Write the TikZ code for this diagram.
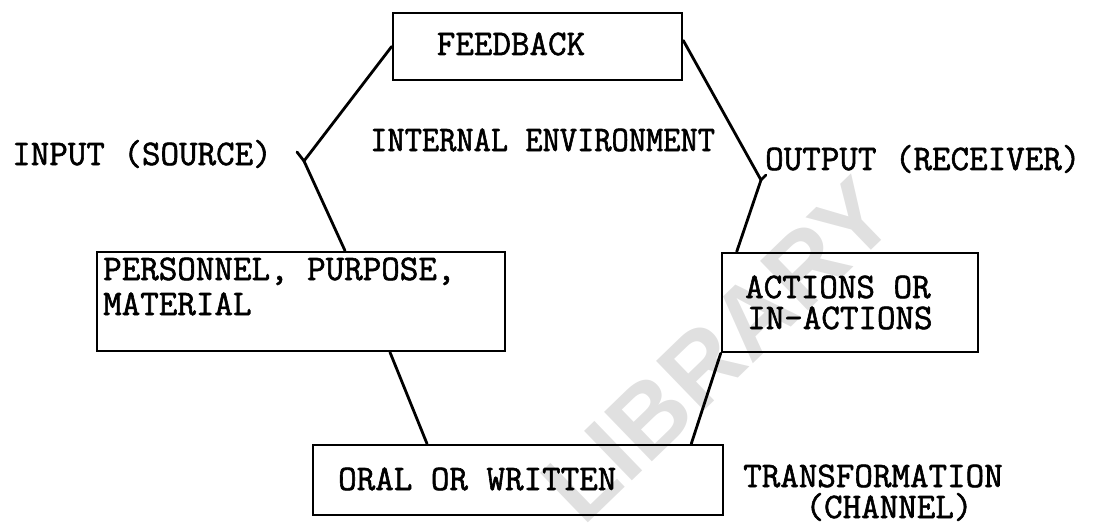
\documentclass[tikz,border=0pt]{standalone}
\usepackage{fontspec}
\newfontfamily\tw[FakeBold=1.6]{Latin Modern Mono}
\newfontfamily\twn[FakeStretch=0.93,FakeBold=1.6]{Latin Modern Mono}
\newfontfamily\wmfont{Liberation Sans}
\usetikzlibrary{calc}
\begin{document}
\begin{tikzpicture}[x=1pt,y=-1pt,
  box/.style={draw, line width=2.6pt, inner sep=0pt},
  txt/.style={font={\tw\fontsize{36}{40}\selectfont}, inner sep=0pt, anchor=base west},
  txtn/.style={font={\twn\fontsize{36}{40}\selectfont}, inner sep=0pt, anchor=base west},
  conn/.style={line width=2.8pt, line join=miter, line cap=round},
  wmark/.style={font={\wmfont\bfseries\fontsize{100}{110}\selectfont}, text=black!12, inner sep=0pt}]
\useasboundingbox (0,0) rectangle (1095,524);
% watermark
\node[wmark, rotate=44] (wmk) at (718,350) {LIBRARY};
% boxes
\node[box, minimum width=289pt, minimum height=67pt] (fb) at (537.5,46.5) {};
\node[box, minimum width=408pt, minimum height=99pt] (pers) at (301,301.5) {};
\node[box, minimum width=256pt, minimum height=99pt] (act) at (850,302.5) {};
\node[box, minimum width=410pt, minimum height=70pt] (oral) at (518,480) {};
% texts
\node[txt, anchor=base] (fbt) at (511,55) {FEEDBACK};
\node[txt] (inp) at (12,165) {INPUT (SOURCE)};
\node[txtn] (ienv) at (370,151) {INTERNAL ENVIRONMENT};
\node[txt] (outp) at (765,170) {OUTPUT (RECEIVER)};
\node[txt] (p1) at (103,280) {PERSONNEL, PURPOSE,};
\node[txt] (p2) at (103,315) {MATERIAL};
\node[txt] (a1) at (745,298) {ACTIONS OR};
\node[txt] (a2) at (747,329) {IN-ACTIONS};
\node[txt] (oralt) at (338,490) {ORAL OR WRITTEN};
\node[txt] (tr) at (743,487) {TRANSFORMATION};
\node[txt, anchor=base] (ch) at (889,518) {(CHANNEL)};
% vertices
\coordinate (vL) at (304,161);
\coordinate (tL) at (297,152);
\coordinate (vR) at (761,180);
\coordinate (tR) at (766,175);
% connectors
\draw[conn] (tL) -- (vL) -- (fb.west);
\draw[conn] (vL) -- ($(pers.north)+(44,0)$);
\draw[conn] ([yshift=6pt]fb.east) -- (vR) -- (tR);
\draw[conn] (vR) -- ($(act.north west)+(16,0)$);
\draw[conn] ($(pers.south)+(89,0)$) -- ($(oral.north)+(-91,0)$);
\draw[conn] (act.south west) -- ($(oral.north east)+(-33,0)$);
\end{tikzpicture}
\end{document}
